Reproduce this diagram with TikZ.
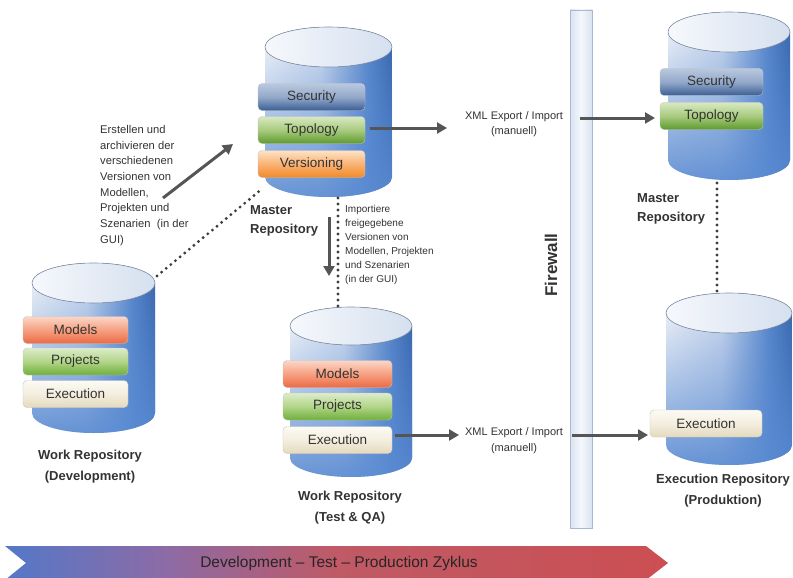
\documentclass[tikz,border=0pt]{standalone}
\usepackage{fontspec}
\setmainfont{Liberation Sans}
\usetikzlibrary{arrows.meta,fadings,calc}

% palette
\definecolor{cylA}{HTML}{E9EEF6}
\definecolor{cylB}{HTML}{C6D5EC}
\definecolor{cylC}{HTML}{5685CB}
\definecolor{cylD}{HTML}{3A69B0}
\definecolor{cylLow}{HTML}{5A8BD2}
\definecolor{capL}{HTML}{F6F8FC}
\definecolor{capR}{HTML}{D5E0EF}
\definecolor{capEdge}{HTML}{8494AC}
\definecolor{arrowgray}{HTML}{555555}
\definecolor{dotgray}{HTML}{3E3E3E}
\definecolor{txt}{HTML}{333333}
\definecolor{banA}{HTML}{5478C8}
\definecolor{banB}{HTML}{8C6BA6}
\definecolor{banC}{HTML}{BF5A66}
\definecolor{banD}{HTML}{CB4F52}
\definecolor{fwFill}{HTML}{F4F7FC}
\definecolor{fwSide}{HTML}{D9E3F1}
\definecolor{fwEdge}{HTML}{A7B9D3}
% bar gradients
\definecolor{secT}{HTML}{B9C8DE}\definecolor{secB}{HTML}{3A5E94}\definecolor{secM}{HTML}{93A9CA}
\definecolor{topT}{HTML}{D8E8C2}\definecolor{topB}{HTML}{5E9A2E}\definecolor{topM}{HTML}{A8CB7E}
\definecolor{verT}{HTML}{FDE3C6}\definecolor{verB}{HTML}{F28A26}\definecolor{verM}{HTML}{F9B274}
\definecolor{modT}{HTML}{FBD6C8}\definecolor{modB}{HTML}{EC6A45}\definecolor{modM}{HTML}{F6A080}
\definecolor{proT}{HTML}{DDECCB}\definecolor{proB}{HTML}{6FAE3A}\definecolor{proM}{HTML}{B1D588}
\definecolor{exeT}{HTML}{FCFAF4}\definecolor{exeB}{HTML}{E4D9BC}\definecolor{exeM}{HTML}{F3EEDF}

% shadings (the path box maps onto 25bp..75bp)
\pgfdeclarehorizontalshading{cylbody}{100bp}{color(0bp)=(cylA); color(25bp)=(cylA); color(47bp)=(cylB); color(66bp)=(cylC); color(75bp)=(cylD); color(100bp)=(cylD)}
\pgfdeclarehorizontalshading{cyclebanner}{100bp}{color(0bp)=(banA); color(25bp)=(banA); color(37bp)=(banB); color(50bp)=(banC); color(75bp)=(banD); color(100bp)=(banD)}
\tikzfading[name=cylfade, top color=transparent!100, middle color=transparent!70, bottom color=transparent!10]

% database cylinder: name, cx, y of top cap centre, y of bottom cap centre, rx, ry
\newcommand\dbcyl[6]{%
  \path[shading=cylbody] ({#2-#5},#3) -- ({#2-#5},#4)
     arc[start angle=180,end angle=360,x radius=#5pt,y radius=#6pt] -- ({#2+#5},#3) -- cycle;
  \fill[cylLow,path fading=cylfade] ({#2-#5},#3) -- ({#2-#5},#4)
     arc[start angle=180,end angle=360,x radius=#5pt,y radius=#6pt] -- ({#2+#5},#3) -- cycle;
  \filldraw[left color=capL,right color=capR,draw=capEdge,line width=0.6pt]
     (#2,#3) ellipse[x radius=#5pt,y radius=#6pt];
  \coordinate (#1-n) at (#2,{#3-#6});
  \coordinate (#1-s) at (#2,{#4+#6});
}

\tikzset{
  bar/.style={rounded corners=4pt, minimum height=27pt, inner sep=0pt,
    font=\fontsize{13.5}{13.5}\selectfont, text=txt, draw=white!55!gray, line width=0.4pt},
  secbar/.style={bar, top color=secT, bottom color=secB, middle color=secM},
  topobar/.style={bar, top color=topT, bottom color=topB, middle color=topM},
  versbar/.style={bar, top color=verT, bottom color=verB, middle color=verM},
  modbar/.style={bar, top color=modT, bottom color=modB, middle color=modM},
  projbar/.style={bar, top color=proT, bottom color=proB, middle color=proM},
  execbar/.style={bar, top color=exeT, bottom color=exeB, middle color=exeM},
  repolabel/.style={font=\bfseries\fontsize{13}{21}\selectfont, text=txt, align=center, inner sep=0pt},
  note/.style={text=txt, align=left, inner sep=0pt},
  arr/.style={draw=arrowgray, line width=3pt, -{Triangle[length=10pt,width=11pt]}},
  dotline/.style={draw=dotgray, line width=3.2pt, line cap=round, dash pattern=on 0pt off 6pt},
}

\begin{document}
\begin{tikzpicture}[x=1pt,y=-1pt]
\useasboundingbox[fill=white] (0,0) rectangle (793,578);

% firewall
\path[left color=fwSide, right color=fwSide, middle color=fwFill] (570,10) rectangle (592,528);
\draw[fwEdge, line width=0.8pt] (570,10) rectangle (592,528);
\node[font=\bfseries\fontsize{17}{17}\selectfont, text=txt, rotate=90] (fw) at (551,265) {Firewall};

% cylinders
\dbcyl{mst}{328.5}{47}{177}{63.5}{20}
\dbcyl{dev}{93.5}{283}{413}{61.5}{20}
\dbcyl{tst}{351}{326}{458}{61}{19}
\dbcyl{mpr}{729}{32}{160}{61}{20}
\dbcyl{exr}{729}{313}{445}{63}{20}

% master repository (development side)
\node[secbar,  minimum width=107pt] (mst-sec)  at (311.5,97)  {Security};
\node[topobar, minimum width=107pt] (mst-topo) at (311.5,130) {Topology};
\node[versbar, minimum width=107pt] (mst-vers) at (311.5,164) {Versioning};
\node[repolabel, align=left, anchor=west, font=\bfseries\fontsize{13}{18.5}\selectfont] (mst-lbl) at (250,221) {Master\\Repository};

% work repository (development)
\node[modbar,  minimum width=105pt] (dev-mod)  at (75.5,330)   {Models};
\node[projbar, minimum width=105pt] (dev-proj) at (75.5,361.5) {Projects};
\node[execbar, minimum width=105pt] (dev-exec) at (75.5,394)   {Execution};
\node[repolabel] (dev-lbl) at (90,467) {Work Repository\\(Development)};

% work repository (test)
\node[modbar,  minimum width=109pt] (tst-mod)  at (337.5,374)   {Models};
\node[projbar, minimum width=109pt] (tst-proj) at (337.5,406.5) {Projects};
\node[execbar, minimum width=109pt] (tst-exec) at (337.5,440)   {Execution};
\node[repolabel] (tst-lbl) at (350,507.5) {Work Repository\\(Test \& QA)};

% master repository (production side)
\node[secbar,  minimum width=103pt] (mpr-sec)  at (711.5,82)  {Security};
\node[topobar, minimum width=103pt] (mpr-topo) at (711.5,116) {Topology};
\node[repolabel, align=left, anchor=west, font=\bfseries\fontsize{13}{18.5}\selectfont] (mpr-lbl) at (637,209) {Master\\Repository};

% execution repository
\node[execbar, minimum width=112pt] (exr-exec) at (706,423.5) {Execution};
\node[repolabel] (exr-lbl) at (723,491) {Execution Repository\\(Produktion)};

% notes
\node[note, anchor=north west, font=\fontsize{11.2}{15.7}\selectfont] (erst) at (100,125)
  {Erstellen und\\archivieren der\\verschiedenen\\Versionen von\\Modellen,\\Projekten und\\Szenarien\ \ (in der\\GUI)};
\node[note, anchor=north west, font=\fontsize{10}{14}\selectfont] (imp) at (345,205)
  {Importiere\\freigegebene\\Versionen von\\Modellen, Projekten\\und Szenarien\\(in der GUI)};
\node[note, align=center, font=\fontsize{11}{15}\selectfont] (xml1) at (514,124.5) {XML Export / Import\\(manuell)};
\node[note, align=center, font=\fontsize{11}{16}\selectfont] (xml2) at (514,441) {XML Export / Import\\(manuell)};

% connector end points
\coordinate (d1a) at (157,276);
\coordinate (d1b) at (263,188);
\coordinate (d2a) at (338,198);
\coordinate (d2b) at (338,308);
\coordinate (d3a) at (717,183);
\coordinate (d3b) at (717,292);
\coordinate (g1a) at (163,198);
\coordinate (g1b) at (233,144);
\coordinate (g2a) at (329,217);
\coordinate (g2b) at (329,276);
\coordinate (t1a) at (370,128);
\coordinate (t1b) at (447,128);
\coordinate (t2a) at (580,118);
\coordinate (t2b) at (655,118);
\coordinate (b1a) at (395,435);
\coordinate (b1b) at (459,435);
\coordinate (b2a) at (572,435);
\coordinate (b2b) at (648,435);

% dotted links between repositories
\draw[dotline] (d1a) -- (d1b);
\draw[dotline] (d2a) -- (d2b);
\draw[dotline] (d3a) -- (d3b);

% transfer arrows
\draw[arr] (g1a) -- (g1b);
\draw[arr] (g2a) -- (g2b);
\draw[arr] (t1a) -- (t1b);
\draw[arr] (t2a) -- (t2b);
\draw[arr] (b1a) -- (b1b);
\draw[arr] (b2a) -- (b2b);

% cycle banner
\path[shading=cyclebanner] (5,546) -- (646,546) -- (668,563) -- (646,580) -- (5,580) -- (26,563) -- cycle;
\node[font=\fontsize{15.5}{15.5}\selectfont, text=black!85] (cyc) at (339,563) {Development – Test – Production Zyklus};
\end{tikzpicture}
\end{document}
